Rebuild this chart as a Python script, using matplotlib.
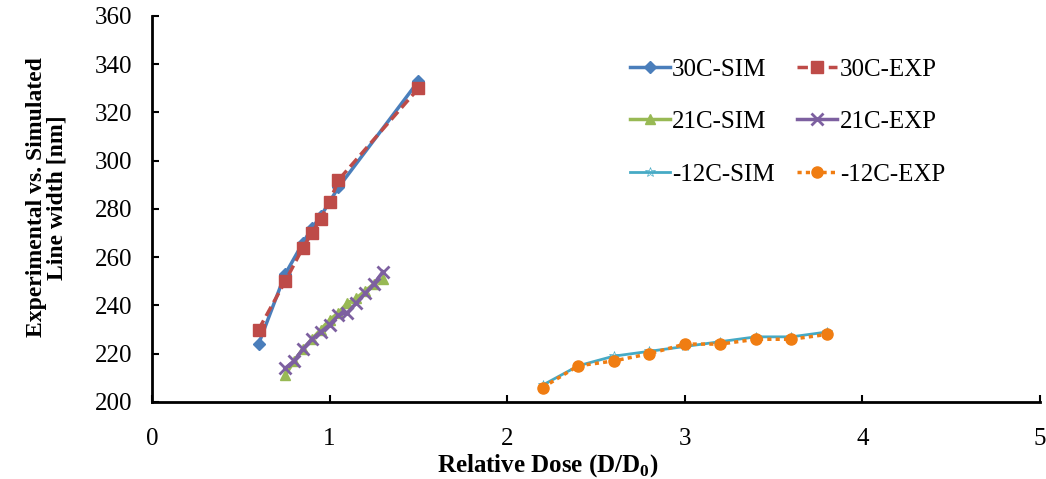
import numpy as np
import matplotlib.pyplot as plt

plt.rcParams['font.family'] = ['Liberation Serif', 'DejaVu Serif']

# 30C
x30 = [0.6, 0.75, 0.85, 0.9, 0.95, 1.0, 1.05, 1.5]
sim30 = [224, 253, 266, 272, 277, 283, 289, 333]
exp30 = [230, 250, 264, 270, 276, 283, 292, 330]

# 21C
x21 = [0.75, 0.8, 0.85, 0.9, 0.95, 1.0, 1.05, 1.1, 1.15, 1.2, 1.25, 1.3]
sim21 = [211, 217, 222, 226, 230, 234, 237, 241, 243, 246, 249, 251]
exp21 = [214, 217, 222, 226, 229, 232, 236, 237, 241, 245, 249, 254]

# -12C
xm12 = [2.2, 2.4, 2.6, 2.8, 3.0, 3.2, 3.4, 3.6, 3.8]
simm12 = [207, 215, 219, 221, 223, 225, 227, 227, 229]
expm12 = [206, 215, 217, 220, 224, 224, 226, 226, 228]

fig = plt.figure(figsize=(10.46, 4.79), dpi=100)
ax = fig.add_axes([0.1453, 0.1608, 0.849, 0.8058])

l1, = ax.plot(x30, sim30, color='#4A7EBB', lw=2.5, marker='D', ms=6, label='30C-SIM')
l2, = ax.plot(x30, exp30, color='#BE4B48', lw=2.5, ls=(0, (3, 1.5)), marker='s', ms=8, label='30C-EXP')
l3, = ax.plot(x21, sim21, color='#98B954', lw=2.5, marker='^', ms=7, label='21C-SIM')
l4, = ax.plot(x21, exp21, color='#7D60A0', lw=2.5, marker='x', ms=9, mew=2, label='21C-EXP')
l5, = ax.plot(xm12, simm12, color='#46AAC5', lw=2, marker='*', ms=7, mew=0.5, mfc='none', label='-12C-SIM')
l6, = ax.plot(xm12, expm12, color='#F07D12', lw=2.5, ls=(0, (1.2, 1.2)), marker='o', ms=8, label='-12C-EXP')

ax.set_xlim(0, 5)
ax.set_ylim(200, 360)
ax.set_xticks(np.arange(0, 6, 1))
ax.set_yticks(np.arange(200, 361, 20))
ax.tick_params(direction='in', labelsize=18, width=1.5, length=5)
ax.tick_params(axis='y', pad=14)
ax.tick_params(axis='x', pad=19)
for s in ['top', 'right']:
    ax.spines[s].set_visible(False)
for s in ['left', 'bottom']:
    ax.spines[s].set_linewidth(2)

ax.set_xlabel('Relative Dose (D/D$_\\mathregular{0}$)', fontsize=18, fontweight='bold')
ax.xaxis.set_label_coords(0.446, -0.13)
ax.set_ylabel('Experimental vs. Simulated\nLine width [nm]', fontsize=17, fontweight='bold',
              linespacing=1.0)
ax.yaxis.set_label_coords(-0.095, 0.53)

# row-wise order like the original legend
handles = [l1, l3, l5, l2, l4, l6]
ax.legend(handles=handles, ncol=2, loc='upper left', bbox_to_anchor=(0.59, 0.905),
          bbox_transform=fig.transFigure, frameon=False,
          fontsize=18, labelspacing=1.2, columnspacing=0.9, handlelength=1.6,
          handletextpad=0.1, borderpad=0)

plt.savefig('out.png', dpi=100)
